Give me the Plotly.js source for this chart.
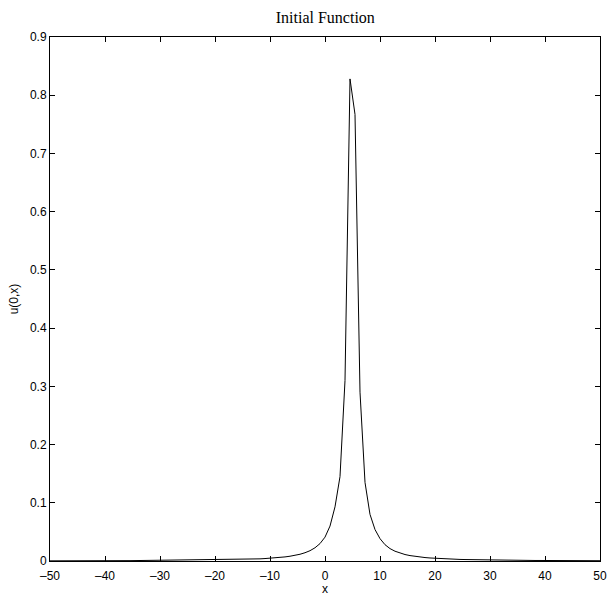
<!DOCTYPE html>
<html>
<head>
<meta charset="utf-8">
<script src="https://cdn.plot.ly/plotly-3.0.1.min.js"></script>
<style>html,body{margin:0;padding:0;background:#fff;}#chart{width:608px;height:596px;}</style>
</head>
<body>
<div id="chart"></div>
<script>
var xValues = [-50.000,-49.091,-48.182,-47.273,-46.364,-45.455,-44.545,-43.636,-42.727,-41.818,
-40.909,-40.000,-39.091,-38.182,-37.273,-36.364,-35.455,-34.545,-33.636,-32.727,
-31.818,-30.909,-30.000,-29.091,-28.182,-27.273,-26.364,-25.455,-24.545,-23.636,
-22.727,-21.818,-20.909,-20.000,-19.091,-18.182,-17.273,-16.364,-15.455,-14.545,
-13.636,-12.727,-11.818,-10.909,-10.000,-9.091,-8.182,-7.273,-6.364,-5.455,
-4.545,-3.636,-2.727,-1.818,-0.909,0.000,0.909,1.818,2.727,3.636,
4.545,5.455,6.364,7.273,8.182,9.091,10.000,10.909,11.818,12.727,
13.636,14.545,15.455,16.364,17.273,18.182,19.091,20.000,20.909,21.818,
22.727,23.636,24.545,25.455,26.364,27.273,28.182,29.091,30.000,30.909,
31.818,32.727,33.636,34.545,35.455,36.364,37.273,38.182,39.091,40.000,
40.909,41.818,42.727,43.636,44.545,45.455,46.364,47.273,48.182,49.091,50.000];
var uValues = [0.0003,0.0004,0.0004,0.0004,0.0004,0.0004,0.0004,0.0004,0.0005,0.0005,
0.0005,0.0005,0.0005,0.0006,0.0006,0.0006,0.0006,0.0007,0.0007,0.0007,
0.0008,0.0008,0.0009,0.0009,0.0010,0.0010,0.0011,0.0011,0.0012,0.0013,
0.0014,0.0015,0.0016,0.0017,0.0018,0.0020,0.0021,0.0023,0.0025,0.0028,
0.0030,0.0034,0.0037,0.0042,0.0047,0.0053,0.0061,0.0070,0.0082,0.0097,
0.0116,0.0142,0.0177,0.0227,0.0299,0.0410,0.0600,0.0930,0.1450,0.3100,
0.8280,0.7670,0.2900,0.1350,0.0800,0.0540,0.0384,0.0280,0.0213,0.0168,
0.0135,0.0111,0.0093,0.0079,0.0068,0.0059,0.0052,0.0046,0.0041,0.0036,
0.0033,0.0030,0.0027,0.0025,0.0023,0.0021,0.0019,0.0018,0.0017,0.0016,
0.0014,0.0014,0.0013,0.0012,0.0011,0.0011,0.0010,0.0009,0.0009,0.0008,
0.0008,0.0008,0.0007,0.0007,0.0007,0.0006,0.0006,0.0006,0.0006,0.0005,0.0005];
var xTicks = [-50,-40,-30,-20,-10,0,10,20,30,40,50];
var yTicks = [0,0.1,0.2,0.3,0.4,0.5,0.6,0.7,0.8,0.9];

var trace = {
  x: xValues, y: uValues, type: 'scatter', mode: 'lines',
  line: {color: '#000', width: 1}, hoverinfo: 'skip'
};
var axisCommon = {
  showline: true, linecolor: '#000', linewidth: 1, mirror: 'ticks',
  ticks: 'inside', ticklen: 5, tickwidth: 1, tickcolor: '#000',
  showgrid: false, zeroline: false,
  tickfont: {family: 'Liberation Sans, Arial, sans-serif', size: 12, color: '#000'}
};
var layout = {
  width: 608, height: 596,
  margin: {l: 50, r: 8, t: 37, b: 35},
  paper_bgcolor: '#fff', plot_bgcolor: '#fff',
  showlegend: false,
  title: {text: 'Initial Function', x: 0.535, xanchor: 'center', y: 0.97, yanchor: 'middle',
    font: {family: 'Liberation Serif, Times New Roman, serif', size: 16, color: '#000'}},
  xaxis: Object.assign({}, axisCommon, {
    range: [-50, 50], tickvals: xTicks, ticklabelstandoff: 4,
    ticktext: xTicks.map(function(v){return v < 0 ? '\u2013' + Math.abs(v) : String(v);}),
    title: {text: 'x', standoff: 1, font: {family: 'Liberation Sans, Arial, sans-serif', size: 12, color: '#000'}}
  }),
  yaxis: Object.assign({}, axisCommon, {
    range: [0, 0.9], tickvals: yTicks, ticktext: yTicks.map(String),
    title: {text: 'u(0,x)', standoff: 8, font: {family: 'Liberation Sans, Arial, sans-serif', size: 12, color: '#000'}}
  })
};
Plotly.newPlot('chart', [trace], layout, {displayModeBar: false, staticPlot: true});
</script>
</body>
</html>
